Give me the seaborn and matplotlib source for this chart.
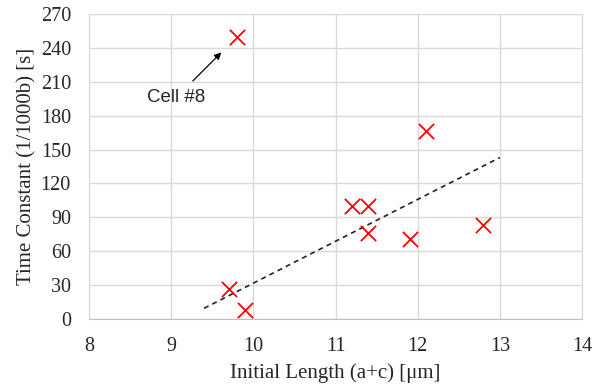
import pandas as pd
import matplotlib
matplotlib.use("Agg")
import matplotlib.pyplot as plt
import seaborn as sns

# measured cells
length_um = [9.8, 12.1, 11.2, 11.4, 11.4, 11.9, 12.8, 9.7, 9.9]
time_const = [250, 166.5, 100, 100, 76.5, 71, 83.5, 27, 8.3]

# linear trend line end points
trend_x = [9.4, 13.0]
trend_y = [9.5, 143.0]

x_ticks = [8, 9, 10, 11, 12, 13, 14]
y_ticks = [0, 30, 60, 90, 120, 150, 180, 210, 240, 270]

df = pd.DataFrame({"length": length_um, "tau": time_const})
trend = pd.DataFrame({"length": trend_x, "tau": trend_y})

sns.set_style("white")
plt.rcParams["font.family"] = ["Liberation Serif", "DejaVu Serif"]

fig = plt.figure(figsize=(6.11, 3.88), dpi=100)
ax = fig.add_axes([0.1457, 0.1778, 0.807, 0.786])

sns.scatterplot(data=df, x="length", y="tau", marker="x", s=120,
                color="#ff0000", linewidth=1.3, ax=ax, zorder=3)
sns.lineplot(data=trend, x="length", y="tau", color="#222222",
             linewidth=1.2, dashes=False, ax=ax, zorder=2)
ax.lines[-1].set_linestyle((0, (3, 2.5)))

ax.set_xlim(8, 14)
ax.set_ylim(0, 270)
ax.set_xticks(x_ticks)
ax.set_yticks(y_ticks)
ax.grid(True, color="#d9d9d9", linewidth=1)
ax.set_axisbelow(True)
for side in ["top", "right", "left"]:
    ax.spines[side].set_color("#d9d9d9")
ax.spines["bottom"].set_color("#bfbfbf")
ax.tick_params(length=0, labelsize=14.5, pad=13)

ax.set_xlabel("Initial Length (a+c) [μm]", fontsize=15, labelpad=5)
ax.set_ylabel("Time Constant (1/1000b) [s]", fontsize=15, labelpad=3)

ax.annotate("Cell #8", xy=(9.61, 236), xytext=(9.06, 196),
            fontsize=13.5, family=["Liberation Sans", "DejaVu Sans"],
            ha="center", va="center",
            arrowprops=dict(arrowstyle="-|>", color="black", lw=0.9,
                            shrinkA=5, shrinkB=0, mutation_scale=10))

fig.savefig("out.png", dpi=100)
